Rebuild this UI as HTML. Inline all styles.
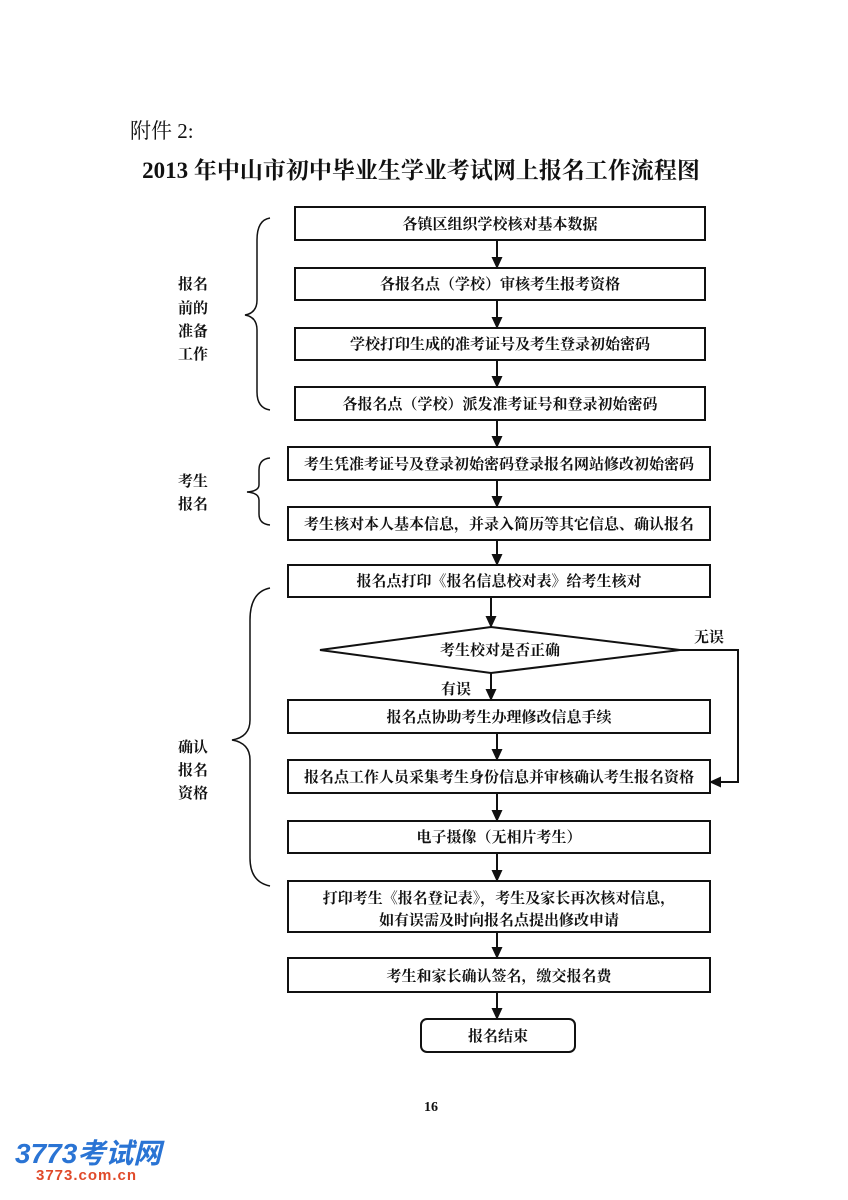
<!DOCTYPE html>
<html><head><meta charset="utf-8"><style>
html,body{margin:0;padding:0;background:#fff;}
svg{display:block;}
text{font-family:"Liberation Serif","Noto Serif CJK SC","Noto Sans CJK SC",serif;fill:#111;}
.b{font-weight:bold;font-size:15px;}
</style></head><body>
<svg width="848" height="1200" viewBox="0 0 848 1200" xmlns="http://www.w3.org/2000/svg">
<defs><marker id="a" markerWidth="12" markerHeight="12" refX="11" refY="6" orient="auto" markerUnits="userSpaceOnUse"><path d="M0,0.5 L12,6 L0,11.5 Z" fill="#111"/></marker></defs>
<text x="130" y="138" font-size="21">附件 2:</text>
<text x="421" y="178" font-size="23" font-weight="bold" text-anchor="middle">2013 年中山市初中毕业生学业考试网上报名工作流程图</text>
<g fill="none" stroke="#111" stroke-width="2">
<rect x="295" y="207" width="410" height="33"/>
<rect x="295" y="268" width="410" height="32"/>
<rect x="295" y="328" width="410" height="32"/>
<rect x="295" y="387" width="410" height="33"/>
<rect x="288" y="447" width="422" height="33"/>
<rect x="288" y="507" width="422" height="33"/>
<rect x="288" y="565" width="422" height="32"/>
<path d="M320,650 L491,627 L680,650 L491,673 Z"/>
<rect x="288" y="700" width="422" height="33"/>
<rect x="288" y="760" width="422" height="33"/>
<rect x="288" y="821" width="422" height="32"/>
<rect x="288" y="881" width="422" height="51"/>
<rect x="288" y="958" width="422" height="34"/>
<rect x="421" y="1019" width="154" height="33" rx="6"/>
</g>
<g stroke="#111" stroke-width="2" fill="none" marker-end="url(#a)">
<line x1="497" y1="240" x2="497" y2="268"/>
<line x1="497" y1="300" x2="497" y2="328"/>
<line x1="497" y1="360" x2="497" y2="387"/>
<line x1="497" y1="420" x2="497" y2="447"/>
<line x1="497" y1="480" x2="497" y2="507"/>
<line x1="497" y1="540" x2="497" y2="565"/>
<line x1="491" y1="597" x2="491" y2="627"/>
<line x1="491" y1="673" x2="491" y2="700"/>
<line x1="497" y1="733" x2="497" y2="760"/>
<line x1="497" y1="793" x2="497" y2="821"/>
<line x1="497" y1="853" x2="497" y2="881"/>
<line x1="497" y1="932" x2="497" y2="958"/>
<line x1="497" y1="992" x2="497" y2="1019"/>
<polyline points="680,650 738,650 738,782 710,782"/>
</g>
<g fill="none" stroke="#111" stroke-width="1.5">
<path d="M270,218 Q257,220 257,240 L257,300 Q257,313 245,315 Q257,317 257,330 L257,392 Q257,408 270,410"/>
<path d="M270,458 Q259,459 259,470 L259,485 Q259,491 247,492 Q259,493 259,500 L259,514 Q259,524 270,525"/>
<path d="M270,588 Q250,592 250,620 L250,720 Q250,737 232,740 Q250,743 250,760 L250,858 Q250,882 270,886"/>
</g>
<g class="b">
<text x="500" y="229" text-anchor="middle">各镇区组织学校核对基本数据</text>
<text x="500" y="289" text-anchor="middle">各报名点（学校）审核考生报考资格</text>
<text x="500" y="349" text-anchor="middle">学校打印生成的准考证号及考生登录初始密码</text>
<text x="500" y="409" text-anchor="middle">各报名点（学校）派发准考证号和登录初始密码</text>
<text x="499" y="469" text-anchor="middle">考生凭准考证号及登录初始密码登录报名网站修改初始密码</text>
<text x="499" y="529" text-anchor="middle">考生核对本人基本信息，并录入简历等其它信息、确认报名</text>
<text x="499" y="586" text-anchor="middle">报名点打印《报名信息校对表》给考生核对</text>
<text x="500" y="655" text-anchor="middle">考生校对是否正确</text>
<text x="694" y="642">无误</text>
<text x="441" y="694">有误</text>
<text x="499" y="722" text-anchor="middle">报名点协助考生办理修改信息手续</text>
<text x="499" y="782" text-anchor="middle">报名点工作人员采集考生身份信息并审核确认考生报名资格</text>
<text x="499" y="842" text-anchor="middle">电子摄像（无相片考生）</text>
<text x="499" y="903" text-anchor="middle">打印考生《报名登记表》，考生及家长再次核对信息，</text>
<text x="499" y="925" text-anchor="middle">如有误需及时向报名点提出修改申请</text>
<text x="499" y="981" text-anchor="middle">考生和家长确认签名，缴交报名费</text>
<text x="498" y="1041" text-anchor="middle">报名结束</text>
<text x="178" y="289">报名</text>
<text x="178" y="313">前的</text>
<text x="178" y="336">准备</text>
<text x="178" y="359">工作</text>
<text x="178" y="486">考生</text>
<text x="178" y="509">报名</text>
<text x="178" y="752">确认</text>
<text x="178" y="775">报名</text>
<text x="178" y="798">资格</text>
<text x="424" y="1111" font-size="14">16</text>
</g>
<text x="15" y="1163" font-size="28" font-weight="bold" font-style="italic" style="fill:#2a74d4;font-family:'Liberation Sans','Noto Sans CJK SC',sans-serif">3773考试网</text>
<text x="36" y="1180" font-size="15" font-weight="bold" style="fill:#e04a2a;font-family:'Liberation Sans',sans-serif" letter-spacing="1">3773.com.cn</text>
</svg>
</body></html>
